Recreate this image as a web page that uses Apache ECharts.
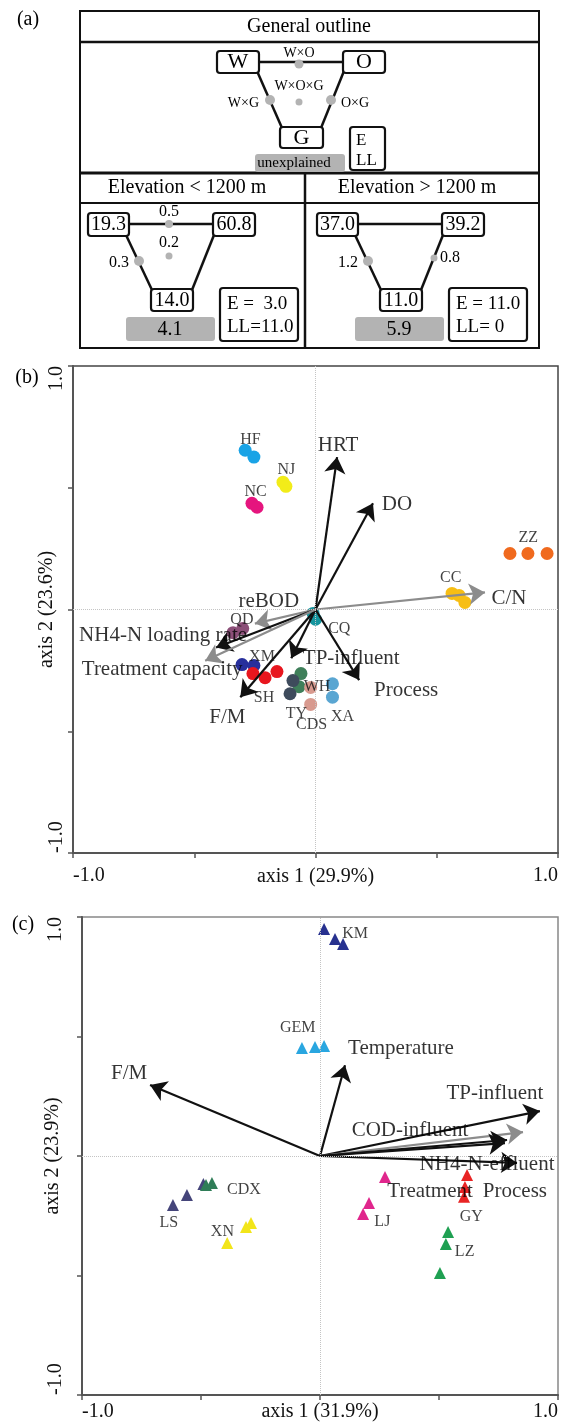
<!DOCTYPE html>
<html><head><meta charset="utf-8">
<script src="https://cdn.jsdelivr.net/npm/echarts@6/dist/echarts.min.js"></script>
<style>html,body{margin:0;padding:0;background:#fff}#c{width:565px;height:1425px}</style>
</head><body><div id="c"></div>
<script>
// ---------- Panel (a): variation partitioning ----------
const outlineTitle = 'General outline';
const factorNames = ['W', 'O', 'G'];
const interactionNames = ['W×O', 'W×G', 'O×G', 'W×O×G'];
const paneTitles = ['Elevation < 1200 m', 'Elevation > 1200 m'];
const mainEffects = [[19.3, 60.8, 14.0], [37.0, 39.2, 11.0]];          // W, O, G
const interactionValues = [[0.5, 0.3, null, 0.2], [null, 1.2, 0.8, null]]; // W×O, W×G, O×G, W×O×G
const unexplainedValues = [4.1, 5.9];
const eValues = ['E =  3.0', 'E = 11.0'];
const llValues = ['LL=11.0', 'LL= 0'];

// ---------- Panel (b): RDA sites and variables ----------
const bSiteNames = ['HF', 'NJ', 'NC', 'ZZ', 'CC', 'CQ', 'QD', 'XM', 'SH', 'WH', 'TY', 'CDS', 'XA'];
const bSitePoints = [
  [[-0.29, 0.654], [-0.254, 0.626]],
  [[-0.134, 0.523], [-0.122, 0.506]],
  [[-0.262, 0.436], [-0.241, 0.42]],
  [[0.802, 0.23], [0.876, 0.23], [0.955, 0.23]],
  [[0.563, 0.066], [0.592, 0.058], [0.616, 0.029]],
  [[-0.01, -0.016], [0.0, -0.04]],
  [[-0.34, -0.095], [-0.30, -0.078]],
  [[-0.303, -0.226], [-0.254, -0.23]],
  [[-0.258, -0.263], [-0.208, -0.28], [-0.159, -0.255]],
  [[-0.06, -0.263], [-0.068, -0.317]],
  [[-0.093, -0.292], [-0.105, -0.346]],
  [[-0.02, -0.32], [-0.02, -0.39]],
  [[0.07, -0.305], [0.07, -0.36]]
];
const bVarNames = ['HRT', 'DO', 'C/N', 'Process', 'TP-influent', 'F/M', 'reBOD', 'NH4-N loading rate', 'Treatment capacity'];
const bVarX = [0.089, 0.237, 0.699, 0.18, -0.10, -0.31, -0.25, -0.41, -0.455];
const bVarY = [0.626, 0.436, 0.07, -0.29, -0.20, -0.36, -0.058, -0.156, -0.21];

// ---------- Panel (c) ----------
const cSiteNames = ['KM', 'GEM', 'LS', 'CDX', 'XN', 'LJ', 'GY', 'LZ'];
const cSitePoints = [
  [[0.017, 0.95], [0.063, 0.908], [0.097, 0.887]],
  [[-0.076, 0.452], [-0.021, 0.456], [0.017, 0.46]],
  [[-0.618, -0.205], [-0.559, -0.163], [-0.49, -0.117]],
  [[-0.479, -0.121], [-0.454, -0.113]],
  [[-0.39, -0.364], [-0.311, -0.297], [-0.29, -0.28]],
  [[0.273, -0.088], [0.206, -0.197], [0.181, -0.243]],
  [[0.618, -0.08], [0.609, -0.13], [0.605, -0.171]],
  [[0.538, -0.318], [0.529, -0.368], [0.504, -0.49]]
];
const cVarNames = ['F/M', 'Temperature', 'TP-influent', 'COD-influent', 'Treatment', 'Process', 'NH4-N-effluent'];
const cVarX = [-0.714, 0.105, 0.924, 0.853, 0.786, 0.777, 0.828];
const cVarY = [0.297, 0.38, 0.188, 0.10, 0.067, 0.054, -0.029];

const axisTitles = { bx: 'axis 1 (29.9%)', by: 'axis 2 (23.6%)', cx: 'axis 1 (31.9%)', cy: 'axis 2 (23.9%)' };
const tickLabels = ['-1.0', '1.0'];

// ---------- Styles / layout ----------
const FONT = "'Liberation Serif','Times New Roman','DejaVu Serif',serif";
const bColors = {HF:'#19a3e6', NJ:'#f2ec19', NC:'#e5157e', ZZ:'#f06a1e', CC:'#f7be14', CQ:'#16959e', QD:'#8b4f78',
  XM:'#272f9c', SH:'#e8161e', WH:'#3f7f5a', TY:'#3e4b5c', CDS:'#d89a8f', XA:'#5aa6d2'};
const cColors = {KM:'#27318f', GEM:'#29a6e0', LS:'#45457a', CDX:'#2f7d57', XN:'#f2e51a', LJ:'#e0268c', GY:'#e82424', LZ:'#1fa052'};
const grayVars = {b: ['C/N', 'reBOD', 'Treatment capacity'], c: ['COD-influent']};
const bSiteLabelOff = {HF:[1,-14], NJ:[2,-14], NC:[1,-13], ZZ:[0,-16], CC:[-8,-19], CQ:[25,12], QD:[4,-11], XM:[14,-8],
  SH:[-1,24], WH:[17,7], TY:[5,27], CDS:[1,29], XA:[10,26]};
const bVarLabelOff = {'HRT':[1,-12], 'DO':[24,1], 'C/N':[24,6], 'Process':[47,10], 'TP-influent':[60,0], 'F/M':[-13,20],
  'reBOD':[14,-22], 'NH4-N loading rate':[-53,-12], 'Treatment capacity':[-43,9]};
const cSiteLabelOff = {KM:[21,-4], GEM:[-16,-19], LS:[-19,28], CDX:[35,6], XN:[-19,1], LJ:[10,24], GY:[6,30], LZ:[20,2]};
const cVarLabelOff = {'F/M':[-21,-12], 'Temperature':[56,-17], 'TP-influent':[-45,-18], 'COD-influent':[-113,-2],
  'Treatment':[-77,51], 'Process':[10,48], 'NH4-N-effluent':[-30,2]};

// ---------- graphic helpers for panel (a) ----------
function txt(x, y, s, size, align) {
  return {type:'text', x:x, y:y, z:20, style:{text:s, fontSize:size, fontFamily:FONT, fill:'#000',
    align: align || 'center', verticalAlign:'middle'}};
}
function box(x, y, w, h, lw, fill, stroke) {
  return {type:'rect', z:10, shape:{x:x, y:y, width:w, height:h, r:3},
    style:{fill: fill || '#fff', stroke: stroke === undefined ? '#111' : stroke, lineWidth: lw === undefined ? 2.2 : lw}};
}
function ln(x1, y1, x2, y2, lw) {
  return {type:'line', z:5, shape:{x1:x1, y1:y1, x2:x2, y2:y2}, style:{stroke:'#111', lineWidth: lw || 2.5}};
}
function dot(x, y, r) { return {type:'circle', z:12, shape:{cx:x, cy:y, r:r}, style:{fill:'#b3b3b3'}}; }

const G = [];
G.push({type:'rect', z:4, shape:{x:80, y:11, width:459, height:337}, style:{fill:'none', stroke:'#111', lineWidth:2}});
G.push(ln(80, 42, 539, 42, 2.5), ln(80, 173, 539, 173, 3), ln(80, 203, 539, 203, 2), ln(305, 173, 305, 348, 2.5));
G.push(txt(309, 27, outlineTitle, 20));
G.push(txt(28, 20, '(a)', 20), txt(27, 378, '(b)', 20), txt(23, 925, '(c)', 20));

// general outline diagram
(function () {
  const ox = 217, oy = 51;
  G.push(ln(ox + 42, oy + 11, ox + 126, oy + 11), ln(ox + 40, oy + 20, ox + 65, oy + 77), ln(ox + 127, oy + 20, ox + 104, oy + 77));
  G.push(box(ox, oy, 42, 22), box(ox + 126, oy, 42, 22), box(ox + 63, oy + 76, 43, 21));
  G.push(txt(ox + 21, oy + 11, factorNames[0], 22), txt(ox + 147, oy + 11, factorNames[1], 22), txt(ox + 84.5, oy + 87, factorNames[2], 22));
  G.push(dot(ox + 82, oy + 13, 4.5), txt(ox + 82, oy + 2, interactionNames[0], 14));
  G.push(dot(ox + 53, oy + 49, 5), txt(ox + 42, oy + 52, interactionNames[1], 14, 'right'));
  G.push(dot(ox + 114, oy + 49, 5), txt(ox + 124, oy + 52, interactionNames[2], 14, 'left'));
  G.push(dot(ox + 82, oy + 51, 3.5), txt(ox + 82, oy + 35, interactionNames[3], 14));
  G.push(box(ox + 38, oy + 103, 90, 18, 0, '#b3b3b3', 'none'), txt(ox + 77, oy + 112, 'unexplained', 15));
  G.push(box(ox + 133, oy + 76, 35, 43), txt(ox + 139, oy + 90, 'E', 17, 'left'), txt(ox + 139, oy + 110, 'LL', 17, 'left'));
})();

// elevation panes
[88, 317].forEach(function (ox, p) {
  const oy = 213;
  const cx = p === 0 ? 192 : 422;
  G.push(txt(cx - 5, 188, paneTitles[p], 20));
  G.push(ln(ox + 41, oy + 11, ox + 125, oy + 11), ln(ox + 38, oy + 22, ox + 64, oy + 77), ln(ox + 126, oy + 22, ox + 104, oy + 77));
  const [w, o, g] = mainEffects[p];
  G.push(box(ox, oy, 41, 23), box(ox + 125, oy, 42, 23), box(ox + 63, oy + 76, 42, 22));
  G.push(txt(ox + 20.5, oy + 12, w.toFixed(1), 20), txt(ox + 146, oy + 12, o.toFixed(1), 20), txt(ox + 84, oy + 87.5, g.toFixed(1), 20));
  const [wo, wg, og, wog] = interactionValues[p];
  if (wo !== null) G.push(dot(ox + 81, oy + 11, 4), txt(ox + 81, oy - 1, wo.toFixed(1), 16));
  if (wg !== null) G.push(dot(ox + 51, oy + 48, 5), txt(ox + 41, oy + 50, wg.toFixed(1), 16, 'right'));
  if (og !== null) G.push(dot(ox + 117, oy + 45, 3.5), txt(ox + 123, oy + 45, og.toFixed(1), 16, 'left'));
  if (wog !== null) G.push(dot(ox + 81, oy + 43, 3.5), txt(ox + 81, oy + 30, wog.toFixed(1), 16));
  G.push(box(ox + 38, oy + 104, 89, 24, 0, '#b3b3b3', 'none'), txt(ox + 82, oy + 117, unexplainedValues[p].toFixed(1), 20));
  G.push(box(ox + 132, oy + 75, 78, 53), txt(ox + 139, oy + 91, eValues[p], 19, 'left'), txt(ox + 139, oy + 114, llValues[p], 19, 'left'));
});

// ---------- ordination panels ----------
function axisPair(gi, xName, yName, xm, ym, nx, ny) {
  const lab = function (v) { return v === -1 ? tickLabels[0] : (v === 1 ? tickLabels[1] : ''); };
  const common = {gridIndex: gi, type:'value', min:-1, max:1, interval:0.5, splitLine:{show:false},
    nameMoveOverlap:false,
    axisLine:{onZero:false, lineStyle:{color:'#555', width:2}},
    axisTick:{show:true, length:5, lineStyle:{color:'#555', width:1.5}},
    nameLocation:'middle', nameTextStyle:{fontSize:20, fontFamily:FONT, color:'#111'}};
  return [
    Object.assign({}, common, {name:xName, nameGap:nx,
      axisLabel:{formatter:lab, fontSize:20, fontFamily:FONT, color:'#111', margin:xm, alignMinLabel:'left', alignMaxLabel:'right', showMinLabel:true, showMaxLabel:true}}),
    Object.assign({}, common, {name:yName, nameGap:ny, nameRotate:90,
      axisLabel:{formatter:lab, rotate:90, fontSize:20, fontFamily:FONT, color:'#111', margin:ym, alignMinLabel:'left', alignMaxLabel:'right', showMinLabel:true, showMaxLabel:true}})
  ];
}
const bAxes = axisPair(0, axisTitles.bx, axisTitles.by, 13, 6, 14, 16);
const cAxes = axisPair(1, axisTitles.cx, axisTitles.cy, 7, 16, 7, 19);

const series = [];
function centroid(pts) {
  let sx = 0, sy = 0; pts.forEach(function (p) { sx += p[0]; sy += p[1]; });
  return [sx / pts.length, sy / pts.length];
}
function addPanel(gi, siteNames, sitePoints, colors, symbol, size, siteOff, varNames, vx, vy, grays, varOff) {
  series.push({type:'scatter', xAxisIndex:gi, yAxisIndex:gi, data:[], silent:true, z:1,
    markLine:{silent:true, symbol:['none','none'], label:{show:false},
      lineStyle:{color:'#c4c4c4', type:'dotted', width:1}, data:[{xAxis:0}, {yAxis:0}]}});
  siteNames.forEach(function (n, i) {
    series.push({type:'scatter', name:n, xAxisIndex:gi, yAxisIndex:gi, symbol:symbol, symbolSize:size, z:2,
      itemStyle:{color:colors[n], opacity:1}, data:sitePoints[i]});
  });
  series.push({type:'lines', coordinateSystem:'cartesian2d', xAxisIndex:gi, yAxisIndex:gi, z:4,
    symbol:['none','arrow'], symbolSize:[0, 16],
    data: varNames.map(function (n, i) {
      return {coords:[[0, 0], [vx[i], vy[i]]],
        lineStyle:{color: grays.indexOf(n) >= 0 ? '#8c8c8c' : '#111', width:2.2, opacity:1}};
    })});
  series.push({type:'scatter', xAxisIndex:gi, yAxisIndex:gi, symbolSize:0, z:6, silent:true,
    data: varNames.map(function (n, i) {
      return {value:[vx[i], vy[i]], name:n,
        label:{show:true, position:'inside', offset:varOff[n], formatter:n, fontSize:21, fontFamily:FONT, color:'#000'}};
    }).concat(siteNames.map(function (n, i) {
      return {value:centroid(sitePoints[i]), name:n,
        label:{show:true, position:'inside', offset:siteOff[n], formatter:n, fontSize:16, fontFamily:FONT, color:'#111'}};
    }))});
}
addPanel(0, bSiteNames, bSitePoints, bColors, 'circle', 13, bSiteLabelOff, bVarNames, bVarX, bVarY, grayVars.b, bVarLabelOff);
addPanel(1, cSiteNames, cSitePoints, cColors, 'triangle', 12, cSiteLabelOff, cVarNames, cVarX, cVarY, grayVars.c, cVarLabelOff);

const chart = echarts.init(document.getElementById('c'), null, {renderer:'canvas'});
chart.setOption({
  animation:false,
  backgroundColor:'#fff',
  grid:[
    {left:73, top:366, width:485, height:487, show:true, borderColor:'#444', borderWidth:1.5, backgroundColor:'transparent'},
    {left:82, top:917, width:476, height:478, show:true, borderColor:'#888', borderWidth:1.5, backgroundColor:'transparent'}
  ],
  xAxis:[bAxes[0], cAxes[0]],
  yAxis:[bAxes[1], cAxes[1]],
  graphic:G,
  series:series
});
</script></body></html>
